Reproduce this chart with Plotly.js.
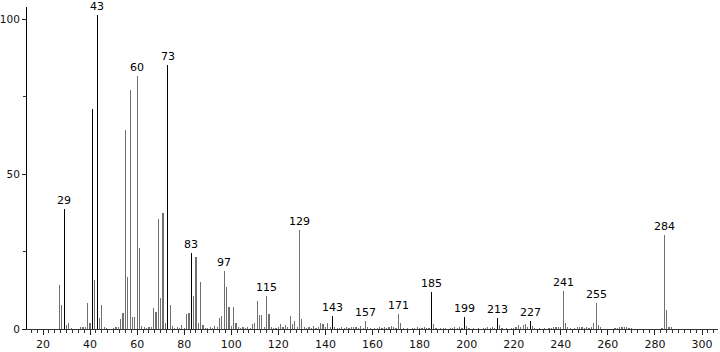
<!DOCTYPE html>
<html>
<head>
<meta charset="utf-8">
<script src="https://cdn.plot.ly/plotly-3.0.1.min.js"></script>
<style>html,body{margin:0;padding:0;background:#fff;}#chart{width:720px;height:352px;}</style>
</head>
<body>
<div id="chart"></div>
<script>
// m/z values and relative intensities
const mz = [27,28,29,30,31,32,36,37,38,39,40,41,42,43,44,45,46,47,50,51,52,53,54,55,56,57,58,59,60,61,62,63,64,
  65,66,67,68,69,70,71,72,73,74,75,76,77,78,79,80,81,82,83,84,85,86,87,88,89,
  90,91,92,93,94,95,96,97,98,99,100,101,102,103,104,105,106,107,108,109,110,111,112,113,114,115,116,117,
  118,119,120,121,122,123,124,125,126,127,128,129,130,131,132,133,134,135,136,137,138,139,140,141,142,143,144,
  145,146,147,148,149,150,151,152,153,154,155,156,157,158,159,161,162,163,164,165,166,167,168,169,170,171,172,173,
  175,177,178,179,180,181,182,183,184,185,186,187,189,190,191,193,194,195,196,197,198,199,200,201,
  203,205,207,208,209,210,211,212,213,214,215,217,219,220,221,222,223,224,225,226,227,228,229,
  231,233,235,236,237,238,239,240,241,242,243,244,246,247,248,249,250,251,252,253,254,255,256,257,
  263,264,265,266,267,268,269,270,283,284,285,286,287];
const intensity = [14.2,7.7,38.7,1.3,1.9,0.4,0.5,0.6,0.8,8.4,1.9,70.9,15.8,101.3,3.5,7.7,0.6,0.4,0.4,0.6,0.5,3.2,5.1,64.4,16.8,77.1,3.9,3.9,81.6,26.1,1.1,0.5,0.3,
  0.5,0.6,6.8,5.5,35.5,10,37.4,2,85.2,7.7,1.0,0.4,0.5,0.3,1.3,0.4,5,5.1,24.7,10.6,23.3,2,15.2,1.3,0.4,
  0.3,0.6,0.4,1.0,0.6,3.5,4.3,18.7,13.5,7.1,1.0,7.1,2.0,0.5,0.3,0.6,0.4,0.5,0.4,1.6,2.0,9.0,4.5,4.5,0.6,10.6,5.0,0.6,
  0.3,0.4,0.5,1.6,0.6,1.3,0.6,4.3,1.6,2.7,0.5,32.1,3.2,0.6,0.4,0.5,0.3,1.0,0.4,0.5,2.0,1.6,0.6,2.0,0.5,4.3,0.6,
  0.4,0.3,0.5,0.4,0.6,0.3,0.5,0.6,0.8,0.4,1.0,0.4,2.5,0.5,0.3,0.4,0.3,0.5,0.4,0.6,0.3,0.6,1.0,0.5,0.4,5.0,2.0,0.4,
  0.3,0.4,0.3,0.5,0.3,0.4,0.5,0.4,0.3,12.0,1.6,0.4,0.3,0.4,0.3,0.4,0.3,0.5,0.4,0.6,0.4,3.8,1.0,0.3,
  0.3,0.4,0.3,0.4,0.5,0.4,0.6,0.4,3.7,1.3,0.4,0.3,0.4,0.3,0.6,1.3,0.5,1.2,1.5,0.6,2.7,1.0,0.4,
  0.3,0.4,0.3,0.4,0.5,0.6,0.8,0.6,12.3,1.8,0.6,0.3,0.4,0.5,0.6,0.5,0.4,0.6,0.3,0.5,2.0,8.5,1.3,0.5,
  0.3,0.4,0.5,0.6,0.5,0.6,0.4,0.3,0.3,30.3,6.1,0.8,0.5];
// peaks drawn in black; all others gray
const darkPeaks = [29,41,43,73,83,143,185,199,213,227];
// labelled peaks
const labelPeaks = [29,43,60,73,83,97,115,129,143,157,171,185,199,213,227,241,255,284];
const xTicks = [20,40,60,80,100,120,140,160,180,200,220,240,260,280,300];
const yTicks = [0,50,100];

const colors = mz.map(m => darkPeaks.includes(m) ? '#000000' : '#707070');
const annotations = labelPeaks.map(m => ({
  x: m, y: intensity[mz.indexOf(m)], xref: 'x', yref: 'y',
  text: String(m), showarrow: false, yanchor: 'bottom', xanchor: 'center',
  font: {family: 'DejaVu Sans, sans-serif', size: 11, color: '#000'}, borderpad: 1
}));

Plotly.newPlot('chart', [{
  type: 'bar', x: mz, y: intensity, width: 0.5,
  marker: {color: colors, line: {width: 0}}, hoverinfo: 'x+y'
}], {
  width: 720, height: 352,
  margin: {l: 27, r: 2, t: 7, b: 23, pad: 0},
  paper_bgcolor: '#fff', plot_bgcolor: '#fff',
  showlegend: false, bargap: 0,
  font: {family: 'DejaVu Sans, sans-serif', size: 11, color: '#111'},
  xaxis: {range: [13.2, 306.8], tickvals: xTicks, ticktext: xTicks.map(String),
    ticks: 'outside', ticklen: 5, tickwidth: 1, tickcolor: '#222',
    minor: {dtick: 2.5, tick0: 0, ticks: 'outside', ticklen: 3, tickcolor: '#333', showgrid: false},
    showline: true, linecolor: '#333', linewidth: 1, showgrid: false, zeroline: false,
    tickfont: {size: 11, color: '#111'}},
  yaxis: {range: [0, 104], tickvals: yTicks, ticktext: yTicks.map(String),
    ticks: 'outside', ticklen: 4, tickwidth: 1, tickcolor: '#222',
    minor: {dtick: 25, tick0: 0, ticks: 'outside', ticklen: 3, tickcolor: '#333', showgrid: false},
    showline: true, linecolor: '#000', linewidth: 1, showgrid: false, zeroline: false,
    tickfont: {size: 10.5, color: '#111'}},
  annotations: annotations
}, {staticPlot: true});
</script>
</body>
</html>
